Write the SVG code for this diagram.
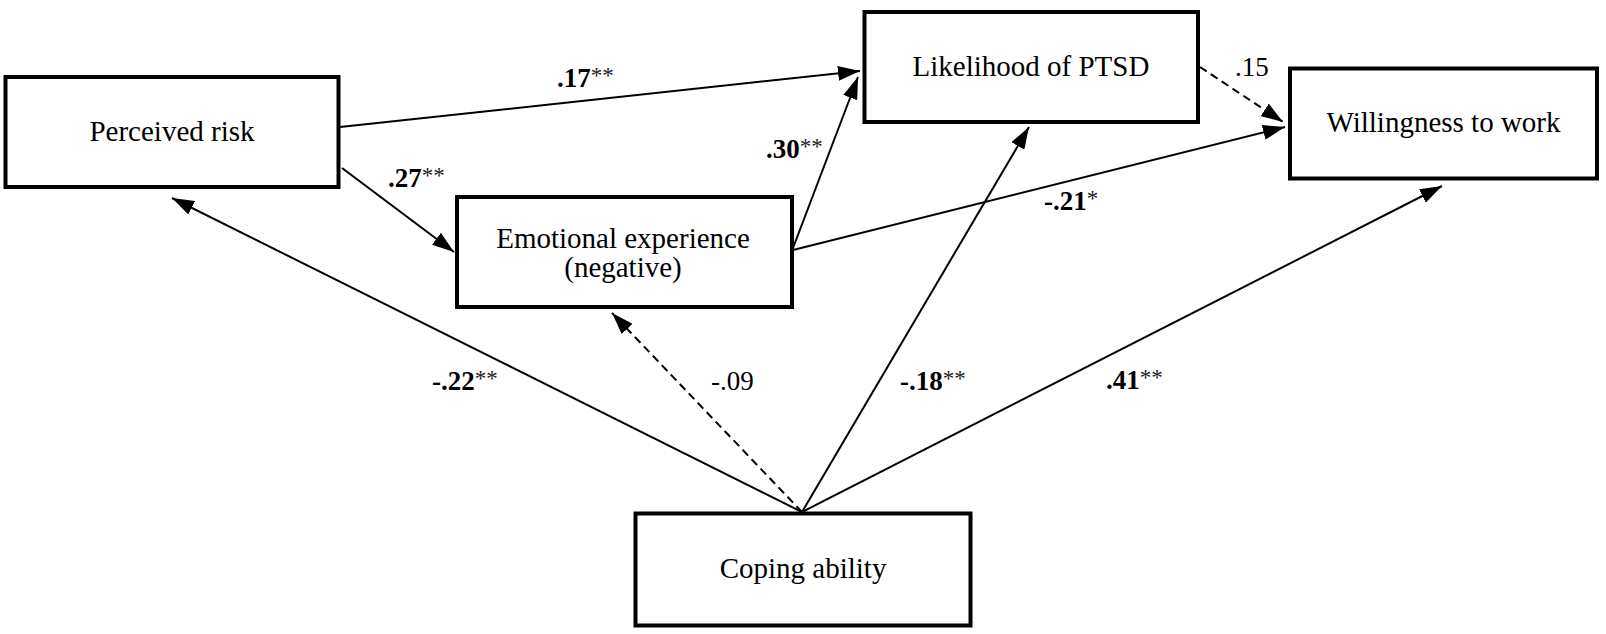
<svg xmlns="http://www.w3.org/2000/svg" width="1606" height="634" viewBox="0 0 1606 634">
<defs>
<style>
.box{fill:#fff;stroke:#000;stroke-width:4}
.nt{font-family:"Liberation Serif","Times New Roman",serif;font-size:29px;fill:#000;text-anchor:middle}
.ln{fill:none;stroke:#000;stroke-width:2;marker-end:url(#ah)}
.dash{stroke-dasharray:8 5}
.lb{font-family:"Liberation Serif","Times New Roman",serif;font-size:27px;font-weight:bold;fill:#000}
.lr{font-family:"Liberation Serif","Times New Roman",serif;font-size:27px;fill:#000}
.st{font-size:23px;font-weight:normal;fill:#222}
</style>
<marker id="ah" viewBox="0 0 22 15" refX="22" refY="7.5" markerWidth="22" markerHeight="15" markerUnits="userSpaceOnUse" orient="auto">
<path d="M0,0 L22,7.5 L0,15 z" fill="#000"/>
</marker>
</defs>
<rect width="1606" height="634" fill="#fff"/>

<g id="connectors">
<path class="ln" d="M340,127 L860,71"/>
<path class="ln" d="M342,168 L454,252"/>
<path class="ln" d="M793,248 L858,77"/>
<path class="ln" d="M793,250 L1285,127"/>
<path class="ln dash" d="M1200,67 L1283,122"/>
<path class="ln" d="M802,512 L172,198"/>
<path class="ln dash" d="M802,512 L612,313"/>
<path class="ln" d="M802,512 L1029,127"/>
<path class="ln" d="M802,512 L1442,186"/>
</g>

<g id="labels">
<text class="lb" x="557" y="87">.17<tspan class="st" dy="-4">**</tspan></text>
<text class="lb" x="388" y="187">.27<tspan class="st" dy="-4">**</tspan></text>
<text class="lb" x="766" y="158">.30<tspan class="st" dy="-4">**</tspan></text>
<text class="lr" x="1235" y="76">.15</text>
<text class="lb" x="1044" y="210">-.21<tspan class="st" dy="-4">*</tspan></text>
<text class="lb" x="432" y="390">-.22<tspan class="st" dy="-4">**</tspan></text>
<text class="lr" x="711" y="390">-.09</text>
<text class="lb" x="900" y="390">-.18<tspan class="st" dy="-4">**</tspan></text>
<text class="lb" x="1106" y="389">.41<tspan class="st" dy="-4">**</tspan></text>
</g>

<g id="perceived-risk">
<rect class="box" x="5.5" y="77" width="333" height="110"/>
<text class="nt" x="172" y="141">Perceived risk</text>
</g>

<g id="likelihood-ptsd">
<rect class="box" x="864.5" y="12" width="333.5" height="110"/>
<text class="nt" x="1031" y="76">Likelihood of PTSD</text>
</g>

<g id="willingness">
<rect class="box" x="1290" y="68.5" width="307" height="110"/>
<text class="nt" x="1443.5" y="132">Willingness to work</text>
</g>

<g id="emotional-experience">
<rect class="box" x="457" y="197" width="335" height="110"/>
<text class="nt" x="623" y="248">Emotional experience</text>
<text class="nt" x="623" y="277">(negative)</text>
</g>

<g id="coping-ability">
<rect class="box" x="635.5" y="513.5" width="335" height="112"/>
<text class="nt" x="803" y="578">Coping ability</text>
</g>
</svg>
